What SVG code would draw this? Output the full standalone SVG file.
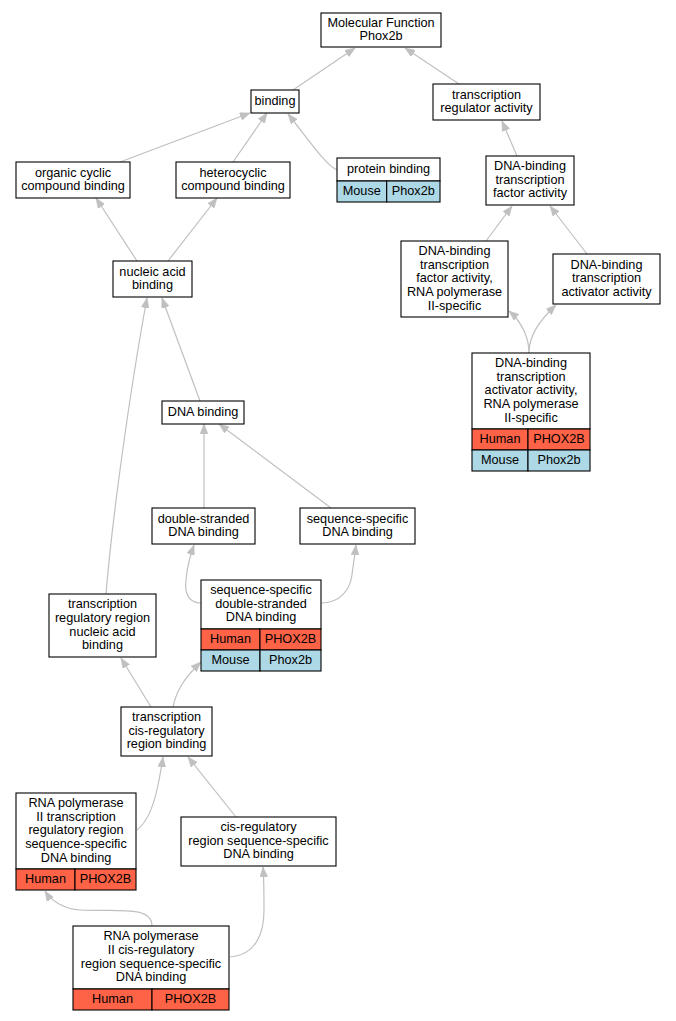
<svg xmlns="http://www.w3.org/2000/svg" width="676" height="1021" viewBox="0 0 676 1021">
<style>
rect{stroke:#000;stroke-width:1.1}
.n{fill:#fff}
.h{fill:#ff6347}
.m{fill:#add8e6}
text{font-family:"Liberation Sans",Arial,sans-serif;font-size:12.7px;text-anchor:middle;fill:#000}
.e path{fill:none;stroke:#c0c0c0;stroke-width:1.2}
</style>
<defs>
<marker id="a" markerUnits="userSpaceOnUse" markerWidth="10" markerHeight="8" refX="10" refY="4" orient="auto" viewBox="0 0 10 8">
<path d="M0,0 L10,4 L0,8 z" fill="#c0c0c0" stroke="#c0c0c0" stroke-width="0.5"/>
</marker>
</defs>
<g class="e">
<path d="M293,90 L355,48" marker-end="url(#a)"/>
<path d="M459,84 L405,48" marker-end="url(#a)"/>
<path d="M120,162 L250,113" marker-end="url(#a)"/>
<path d="M233,162 L267,113" marker-end="url(#a)"/>
<path d="M337,170 C326,166 305,135 288,114" marker-end="url(#a)"/>
<path d="M517,156 L502,121" marker-end="url(#a)"/>
<path d="M486,241 L512,206" marker-end="url(#a)"/>
<path d="M587,254 L550,206" marker-end="url(#a)"/>
<path d="M529,353 C529,338 522,322 509,311" marker-end="url(#a)"/>
<path d="M529,353 C529,335 540,320 556,305" marker-end="url(#a)"/>
<path d="M137,261 L96,198" marker-end="url(#a)"/>
<path d="M168,261 L217,198" marker-end="url(#a)"/>
<path d="M200,401 L162,298" marker-end="url(#a)"/>
<path d="M106,594 C112,520 130,390 147,298" marker-end="url(#a)"/>
<path d="M204,508 L204,424" marker-end="url(#a)"/>
<path d="M331,508 L219,424" marker-end="url(#a)"/>
<path d="M201,603 C190,603 184,595 186,580 C187,568 190,556 194,545" marker-end="url(#a)"/>
<path d="M321,603 C340,603 350,590 352,575 C353,565 355,555 356,545" marker-end="url(#a)"/>
<path d="M151,707 L121,658" marker-end="url(#a)"/>
<path d="M173,707 C176,693 182,680 201,662" marker-end="url(#a)"/>
<path d="M137,830 C150,820 155,800 158,785 C160,775 162,765 163,757" marker-end="url(#a)"/>
<path d="M236,817 L188,757" marker-end="url(#a)"/>
<path d="M152,926 C152,905 115,912 80,910 C65,909 52,902 45,891" marker-end="url(#a)"/>
<path d="M230,957 C255,955 264,935 264,910 C264,895 264,880 263,867" marker-end="url(#a)"/>
</g>
<g id="mf">
<rect class="n" x="321" y="13" width="120" height="34"/>
<text x="381" y="26.5">Molecular Function</text>
<text x="381" y="40.1">Phox2b</text>
</g>
<g id="binding">
<rect class="n" x="251" y="90" width="48" height="23"/>
<text x="275" y="105">binding</text>
</g>
<g id="tra">
<rect class="n" x="433" y="84" width="107" height="36"/>
<text x="486.5" y="98.5">transcription</text>
<text x="486.5" y="112.1">regulator activity</text>
</g>
<g id="organic">
<rect class="n" x="16" y="162" width="114" height="36"/>
<text x="73" y="176.5">organic cyclic</text>
<text x="73" y="190.1">compound binding</text>
</g>
<g id="hetero">
<rect class="n" x="176" y="162" width="114" height="36"/>
<text x="233" y="176.5">heterocyclic</text>
<text x="233" y="190.1">compound binding</text>
</g>
<g id="protein">
<rect class="n" x="337" y="158" width="103" height="23"/>
<rect class="m" x="337" y="181" width="49.7" height="21"/>
<rect class="m" x="386.7" y="181" width="53.3" height="21"/>
<text x="388.5" y="173">protein binding</text>
<text x="361.8" y="195">Mouse</text>
<text x="413.3" y="195">Phox2b</text>
</g>
<g id="dbtfa">
<rect class="n" x="486" y="156" width="88" height="49"/>
<text x="530" y="170.2">DNA-binding</text>
<text x="530" y="183.8">transcription</text>
<text x="530" y="197.4">factor activity</text>
</g>
<g id="dbtfa2">
<rect class="n" x="401" y="241" width="107" height="76"/>
<text x="454.5" y="255.1">DNA-binding</text>
<text x="454.5" y="268.7">transcription</text>
<text x="454.5" y="282.3">factor activity,</text>
<text x="454.5" y="295.9">RNA polymerase</text>
<text x="454.5" y="309.5">II-specific</text>
</g>
<g id="dbta">
<rect class="n" x="553" y="254" width="107" height="50"/>
<text x="606.5" y="268.7">DNA-binding</text>
<text x="606.5" y="282.3">transcription</text>
<text x="606.5" y="295.9">activator activity</text>
</g>
<g id="dbta2">
<rect class="n" x="472" y="353" width="118" height="76"/>
<rect class="h" x="472" y="429" width="56" height="21"/>
<rect class="h" x="528" y="429" width="62" height="21"/>
<rect class="m" x="472" y="450" width="56" height="21"/>
<rect class="m" x="528" y="450" width="62" height="21"/>
<text x="531" y="367.1">DNA-binding</text>
<text x="531" y="380.7">transcription</text>
<text x="531" y="394.3">activator activity,</text>
<text x="531" y="407.9">RNA polymerase</text>
<text x="531" y="421.5">II-specific</text>
<text x="500" y="443">Human</text>
<text x="559" y="443">PHOX2B</text>
<text x="500" y="464">Mouse</text>
<text x="559" y="464">Phox2b</text>
</g>
<g id="nucleic">
<rect class="n" x="113" y="261" width="79" height="36"/>
<text x="152.5" y="275.5">nucleic acid</text>
<text x="152.5" y="289.1">binding</text>
</g>
<g id="dnab">
<rect class="n" x="162" y="401" width="82" height="23"/>
<text x="203" y="416">DNA binding</text>
</g>
<g id="ds">
<rect class="n" x="152" y="508" width="103" height="36"/>
<text x="203.5" y="522.5">double-stranded</text>
<text x="203.5" y="536.1">DNA binding</text>
</g>
<g id="ss">
<rect class="n" x="300" y="508" width="115" height="36"/>
<text x="357.5" y="522.5">sequence-specific</text>
<text x="357.5" y="536.1">DNA binding</text>
</g>
<g id="ssds">
<rect class="n" x="201" y="580" width="120" height="49"/>
<rect class="h" x="201" y="629" width="59" height="21"/>
<rect class="h" x="260" y="629" width="61" height="21"/>
<rect class="m" x="201" y="650" width="59" height="21"/>
<rect class="m" x="260" y="650" width="61" height="21"/>
<text x="261" y="594.2">sequence-specific</text>
<text x="261" y="607.8">double-stranded</text>
<text x="261" y="621.4">DNA binding</text>
<text x="230.5" y="643">Human</text>
<text x="290.5" y="643">PHOX2B</text>
<text x="230.5" y="664">Mouse</text>
<text x="290.5" y="664">Phox2b</text>
</g>
<g id="trrna">
<rect class="n" x="49" y="594" width="107" height="63"/>
<text x="102.5" y="608.4">transcription</text>
<text x="102.5" y="622">regulatory region</text>
<text x="102.5" y="635.6">nucleic acid</text>
<text x="102.5" y="649.2">binding</text>
</g>
<g id="tcrb">
<rect class="n" x="121" y="707" width="91" height="49"/>
<text x="166.5" y="721.2">transcription</text>
<text x="166.5" y="734.8">cis-regulatory</text>
<text x="166.5" y="748.4">region binding</text>
</g>
<g id="rnatrr">
<rect class="n" x="16" y="793" width="120" height="76"/>
<rect class="h" x="16" y="869" width="59" height="21"/>
<rect class="h" x="75" y="869" width="61" height="21"/>
<text x="76" y="807.1">RNA polymerase</text>
<text x="76" y="820.7">II transcription</text>
<text x="76" y="834.3">regulatory region</text>
<text x="76" y="847.9">sequence-specific</text>
<text x="76" y="861.5">DNA binding</text>
<text x="45.5" y="883">Human</text>
<text x="105.5" y="883">PHOX2B</text>
</g>
<g id="cisss">
<rect class="n" x="181" y="817" width="155" height="49"/>
<text x="258.5" y="831.2">cis-regulatory</text>
<text x="258.5" y="844.8">region sequence-specific</text>
<text x="258.5" y="858.4">DNA binding</text>
</g>
<g id="rnacis">
<rect class="n" x="73" y="926" width="156" height="63"/>
<rect class="h" x="73" y="989" width="79" height="21"/>
<rect class="h" x="152" y="989" width="77" height="21"/>
<text x="151" y="940.4">RNA polymerase</text>
<text x="151" y="954">II cis-regulatory</text>
<text x="151" y="967.6">region sequence-specific</text>
<text x="151" y="981.2">DNA binding</text>
<text x="112.5" y="1003">Human</text>
<text x="190.5" y="1003">PHOX2B</text>
</g>
</svg>
